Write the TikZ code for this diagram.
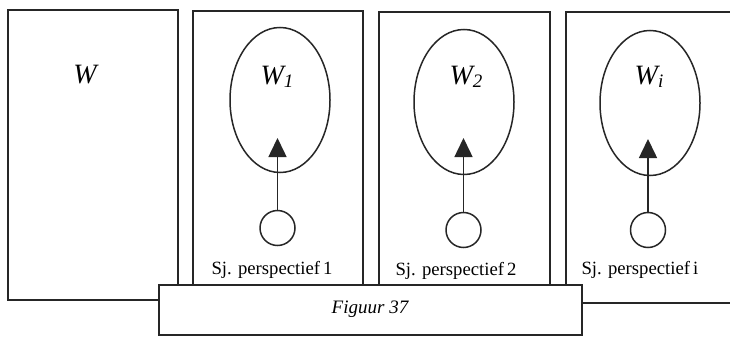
\documentclass[tikz,border=0pt]{standalone}
\usepackage{fontspec}
\setmainfont{Liberation Serif}
\usetikzlibrary{arrows.meta,shapes.geometric}
\begin{document}
\begin{tikzpicture}[x=1pt,y=-1pt,line width=1.5pt,
  panel/.style={draw=black!85},
  world/.style={draw=black!85,ellipse,minimum width=100pt,minimum height=145pt,inner sep=0pt},
  subj/.style={draw=black!85,circle,minimum size=35pt,inner sep=0pt},
  wlabel/.style={font=\fontsize{28}{32}\selectfont\itshape,inner sep=0pt},
  slabel/.style={font=\fontsize{18.7}{22}\selectfont,inner sep=0pt},
  look/.style={-{Triangle[length=19pt,width=18pt]},draw=black!85,line width=1.5pt}]
\useasboundingbox (0,0) rectangle (730,337);
\fill[white] (0,0) rectangle (730,337);
% panels
\draw[panel] (8,10) rectangle (178,300);
\draw[panel] (193,11) rectangle (363,290);
\draw[panel] (379,12) rectangle (550,290);
\draw[panel] (745,12) -- (566,12) -- (566,303) -- (745,303);
% W
\node[wlabel] (w) at (85,75) {W};
% ellipses
\node[world] (e1) at (280,100) {};
\node[world] (e2) at (464,102) {};
\node[world] (e3) at (650,103) {};
\node[wlabel] (w1) at (277,77) {W\raisebox{-0.28ex}{\fontsize{19}{22}\selectfont 1}};
\node[wlabel] (w2) at (466,77) {W\raisebox{-0.28ex}{\fontsize{19}{22}\selectfont 2}};
\node[wlabel] (w3) at (649,77) {W\raisebox{-0.28ex}{\fontsize{19}{22}\selectfont i}};
% subjects
\node[subj] (s1) at (277.5,228) {};
\node[subj] (s2) at (463.5,230) {};
\node[subj] (s3) at (648,230) {};
\coordinate (t1) at (277.5,138);
\coordinate (t2) at (463.5,138);
\coordinate (t3) at (648,139);
\draw[look] (s1.north) -- (t1);
\draw[look] (s2.north) -- (t2);
\draw[look] (s3.north) -- (t3);
% labels
\node[slabel,anchor=base] (l1) at (272,274) {Sj. perspectief\,1};
\node[slabel,anchor=base] (l2) at (456,275) {Sj. perspectief\,2};
\node[slabel,anchor=base] (l3) at (640,274) {Sj. perspectief\,i};
% figure caption box
\draw[panel,fill=white] (159,285) rectangle (582,335);
\node[font=\fontsize{19}{22}\selectfont\itshape,anchor=base] (cap) at (370,313) {Figuur 37};
\end{tikzpicture}
\end{document}
